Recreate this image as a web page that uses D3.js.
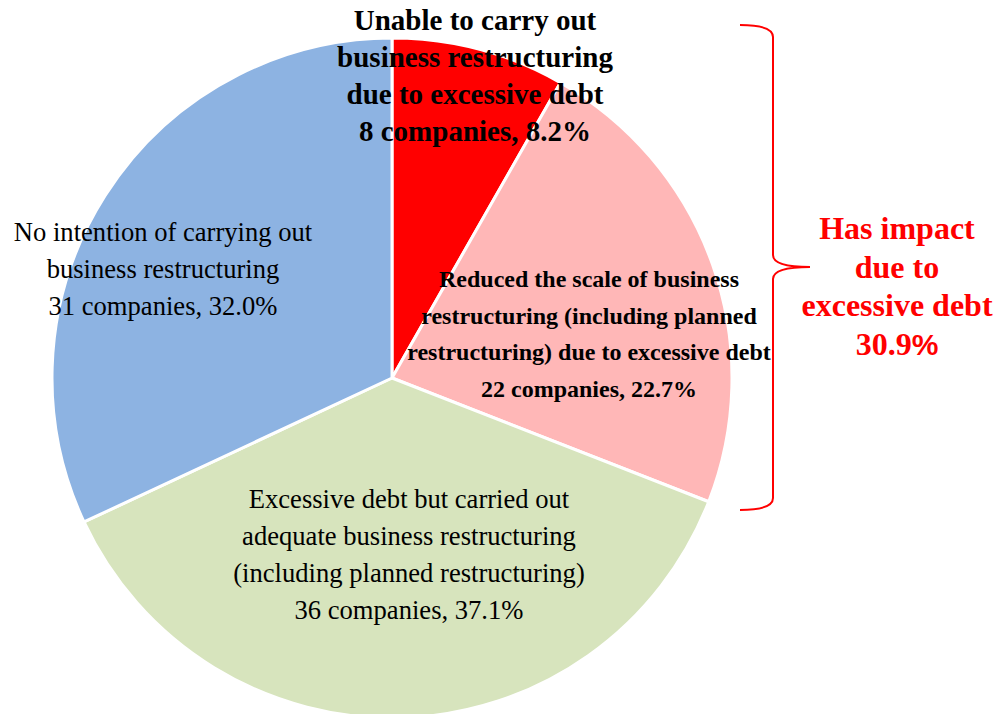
<!DOCTYPE html>
<html>
<head>
<meta charset="utf-8">
<script src="https://cdn.jsdelivr.net/npm/d3@7"></script>
<style>
  html, body { margin: 0; padding: 0; background: #fff; }
  svg { display: block; }
</style>
</head>
<body>
<svg id="chart" width="997" height="714"></svg>
<script>
// Survey results: effect of excessive debt on business restructuring
const categories = [
  ["Unable to carry out", "business restructuring", "due to excessive debt"],
  ["Reduced the scale of business", "restructuring (including planned", "restructuring) due to excessive debt"],
  ["Excessive debt but carried out", "adequate business restructuring", "(including planned restructuring)"],
  ["No intention of carrying out", "business restructuring"]
];
const companies = [8, 22, 36, 31];
const percents = ["8.2%", "22.7%", "37.1%", "32.0%"];
const sliceColors = ["#ff0000", "#ffb7b7", "#d7e4bd", "#8db3e2"];
const impactLines = ["Has impact", "due to", "excessive debt"];
const impactShare = "30.9";

const SERIF = '"Liberation Serif", "Times New Roman", Times, serif';
const svg = d3.select("#chart");
const cx = 392, cy = 378, radius = 340;

const pie = d3.pie().sort(null).value(d => d);
const arcs = pie(companies);
const arc = d3.arc().innerRadius(0).outerRadius(radius);

const g = svg.append("g").attr("transform", `translate(${cx},${cy})`);
g.selectAll("path")
  .data(arcs)
  .join("path")
  .attr("d", arc)
  .attr("fill", (d, i) => sliceColors[i])
  .attr("stroke", "#fff")
  .attr("stroke-width", 3)
  .attr("stroke-linejoin", "round");

// label styling per slice: centre, first baseline, line gap, font size, weight
const labelStyle = [
  { x: 475, y: 30,  gap: 37,   size: 29,   weight: "bold" },
  { x: 589, y: 287, gap: 36.7, size: 24,   weight: "bold" },
  { x: 409, y: 508, gap: 37,   size: 26.6, weight: "normal" },
  { x: 163, y: 241, gap: 37,   size: 26.6, weight: "normal" }
];

categories.forEach((lines, i) => {
  const s = labelStyle[i];
  const all = lines.concat([`${companies[i]} companies, ${percents[i]}`]);
  const t = svg.append("text")
    .attr("text-anchor", "middle")
    .attr("font-family", SERIF)
    .attr("font-size", s.size)
    .attr("font-weight", s.weight)
    .attr("fill", "#000");
  all.forEach((ln, k) => {
    t.append("tspan").attr("x", s.x).attr("y", s.y + k * s.gap).text(ln);
  });
});

// brace grouping the two debt-impacted slices
const bx = 773, braceTop = 25, braceBot = 510, braceMid = 267, tipX = 810, hookX = 740;
const brace = d3.path();
brace.moveTo(hookX, braceTop);
brace.quadraticCurveTo(bx, braceTop, bx, braceTop + 12);
brace.lineTo(bx, braceMid - 12);
brace.quadraticCurveTo(bx, braceMid, tipX, braceMid);
brace.quadraticCurveTo(bx, braceMid, bx, braceMid + 12);
brace.lineTo(bx, braceBot - 12);
brace.quadraticCurveTo(bx, braceBot, hookX, braceBot);
svg.append("path")
  .attr("d", brace.toString())
  .attr("fill", "none")
  .attr("stroke", "#ff0000")
  .attr("stroke-width", 2);

const impact = svg.append("text")
  .attr("text-anchor", "middle")
  .attr("font-family", SERIF)
  .attr("font-size", 32)
  .attr("font-weight", "bold")
  .attr("fill", "#ff0000");
impactLines.forEach((ln, k) => {
  impact.append("tspan").attr("x", 897).attr("y", 239 + k * 38.7).text(ln);
});
const shareLine = impact.append("tspan").attr("x", 897).attr("y", 239 + 3 * 38.7);
shareLine.append("tspan").text(impactShare);
shareLine.append("tspan")
  .attr("font-family", '"Liberation Sans", Arial, sans-serif')
  .attr("font-size", 30)
  .text("%");
</script>
</body>
</html>
